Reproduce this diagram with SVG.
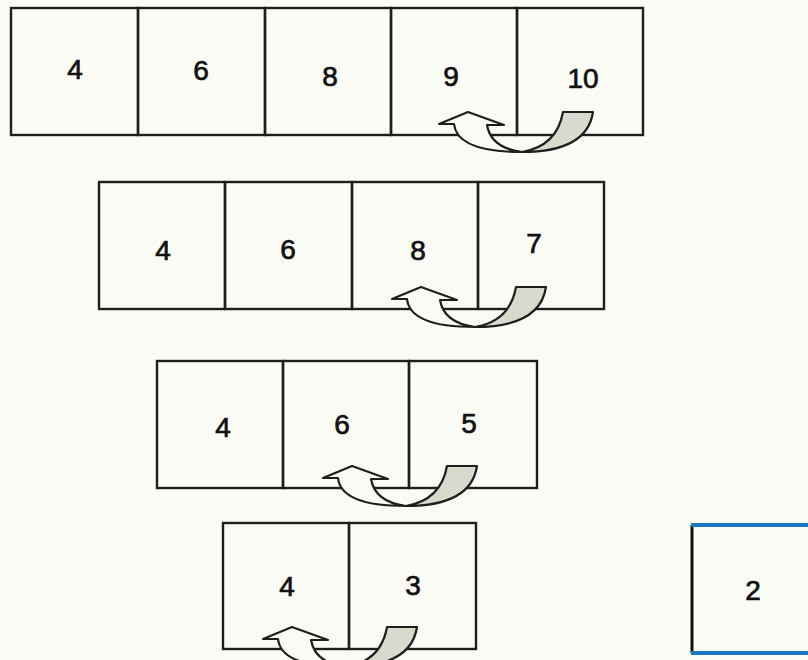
<svg xmlns="http://www.w3.org/2000/svg" xmlns:xlink="http://www.w3.org/1999/xlink" width="808" height="660" viewBox="0 0 808 660">
<style>
.cell{fill:none;stroke:#1e1e1e;stroke-width:2.4}
.num{font-family:"Liberation Sans",Arial,sans-serif;font-size:28px;fill:#111;stroke:#111;stroke-width:0.7;text-anchor:middle}
.front{fill:#fbfbf6;stroke:#1e1e1e;stroke-width:2.2;stroke-linejoin:round}
.back{fill:#d9d9cd;stroke:#1e1e1e;stroke-width:2.2;stroke-linejoin:round}
</style>
<defs>
<g id="twist-arrow">
<path class="back" d="M -3,18 Q 62,18 68,-22 L 38,-22 Q 32,12 -3,18 Z"/>
<path class="front" d="M -71,-10 L -86,-10 L -57,-22 L -21,-9 L -38,-9 Q -34,14 -3,18 Q -68,18 -71,-10 Z"/>
</g>
</defs>
<rect width="808" height="660" fill="#fbfbf6"/>
<g id="row1">
<g id="r1c1"><rect class="cell" x="11" y="8" width="127" height="127"/><text class="num" x="75" y="79">4</text></g>
<g id="r1c2"><rect class="cell" x="138" y="8" width="127" height="127"/><text class="num" x="201" y="80">6</text></g>
<g id="r1c3"><rect class="cell" x="265" y="8" width="126" height="127"/><text class="num" x="330" y="86">8</text></g>
<g id="r1c4"><rect class="cell" x="391" y="8" width="126" height="127"/><text class="num" x="451" y="86">9</text></g>
<g id="r1c5"><rect class="cell" x="517" y="8" width="126" height="127"/><text class="num" x="583" y="88">10</text></g>
</g>
<g id="row2">
<g id="r2c1"><rect class="cell" x="99" y="182" width="126" height="127"/><text class="num" x="163" y="260">4</text></g>
<g id="r2c2"><rect class="cell" x="225" y="182" width="127" height="127"/><text class="num" x="288" y="259">6</text></g>
<g id="r2c3"><rect class="cell" x="352" y="182" width="126" height="127"/><text class="num" x="418" y="260">8</text></g>
<g id="r2c4"><rect class="cell" x="478" y="182" width="126" height="127"/><text class="num" x="534" y="253">7</text></g>
</g>
<g id="row3">
<g id="r3c1"><rect class="cell" x="157" y="361" width="126" height="127"/><text class="num" x="223" y="437">4</text></g>
<g id="r3c2"><rect class="cell" x="283" y="361" width="126" height="127"/><text class="num" x="342" y="434">6</text></g>
<g id="r3c3"><rect class="cell" x="409" y="361" width="128" height="127"/><text class="num" x="469" y="433">5</text></g>
</g>
<g id="row4">
<g id="r4c1"><rect class="cell" x="223" y="523" width="126" height="126"/><text class="num" x="287" y="596">4</text></g>
<g id="r4c2"><rect class="cell" x="349" y="523" width="127" height="126"/><text class="num" x="413" y="595">3</text></g>
</g>
<g id="single">
<line x1="692" y1="525" x2="692" y2="653" stroke="#111" stroke-width="3"/>
<line x1="691" y1="525" x2="808" y2="525" stroke="#1878c0" stroke-width="4"/>
<line x1="691" y1="653" x2="808" y2="653" stroke="#1878c0" stroke-width="4"/>
<text class="num" x="753" y="600">2</text>
</g>
<g id="connectors">
<use xlink:href="#twist-arrow" transform="translate(525,134)"/>
<use xlink:href="#twist-arrow" transform="translate(478,309)"/>
<use xlink:href="#twist-arrow" transform="translate(409,488)"/>
<use xlink:href="#twist-arrow" transform="translate(349,649)"/>
</g>
</svg>
